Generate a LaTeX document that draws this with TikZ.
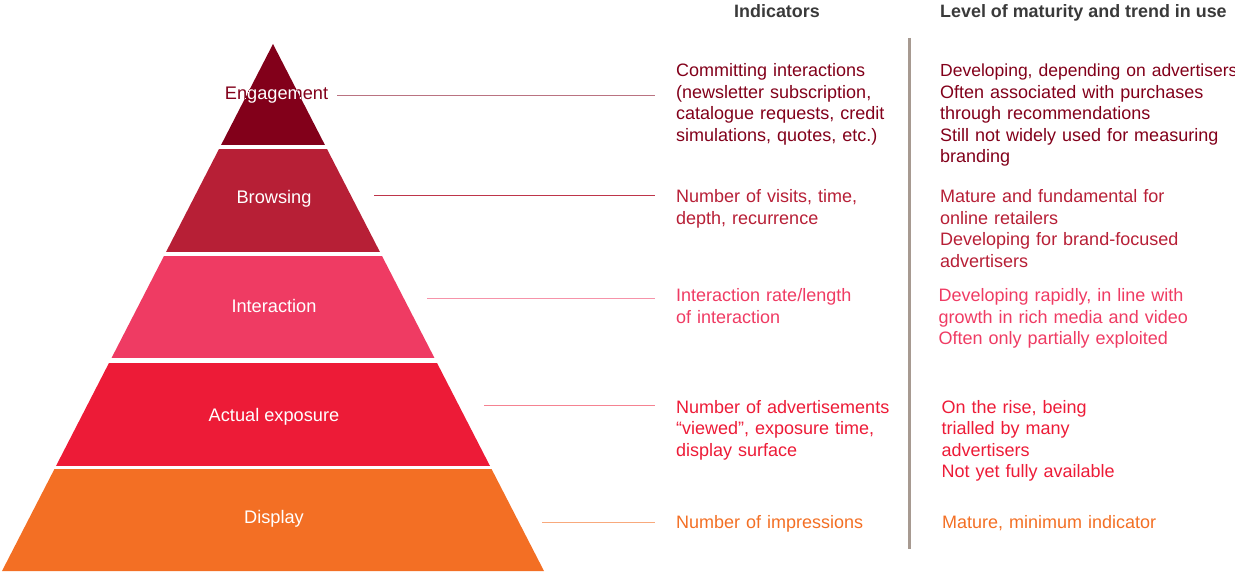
\documentclass[tikz,border=0pt]{standalone}
\usepackage{fontspec}
\setmainfont{Liberation Sans}
\definecolor{engcol}{HTML}{82001A}
\definecolor{brwcol}{HTML}{B71F36}
\definecolor{intcol}{HTML}{EF3B63}
\definecolor{expcol}{HTML}{ED1B37}
\definecolor{dspcol}{HTML}{F36F24}
\definecolor{headcol}{HTML}{3A3A3A}
\definecolor{sepcol}{HTML}{A79A91}
\tikzset{
  txt/.style={anchor=base west, inner sep=0pt, align=left, text width=340pt,
    font=\fontsize{18}{21.6}\selectfont},
  head/.style={inner sep=0pt, font=\fontsize{17.9}{21.6}\selectfont\bfseries, text=headcol},
  lvl/.style={anchor=base, inner sep=0pt, font=\fontsize{18.2}{21.6}\selectfont, text=white},
  conn/.style={line width=0.9pt},
}
\begin{document}
\begin{tikzpicture}[x=1pt,y=-1pt]
\useasboundingbox (0,0) rectangle (1235,575);
% pyramid layers
\begin{scope}
  \clip (273,44) -- (544,571) -- (2,571) -- cycle;
  \fill[engcol] (0,40) rectangle (560,145);
  \fill[brwcol] (0,149) rectangle (560,252);
  \fill[intcol] (0,256) rectangle (560,358);
  \fill[expcol] (0,362.5) rectangle (560,465.5);
  \fill[dspcol] (0,469) rectangle (560,575);
\end{scope}
% layer labels
\node[lvl, text=engcol] (lEng) at (276.5,100) {Engagement};
\begin{scope}
  \clip (273,44) -- (544,571) -- (2,571) -- cycle;
  \node[lvl] (lEngW) at (276.5,100) {Engagement};
\end{scope}
\node[lvl] (lBrw) at (274,204) {Browsing};
\node[lvl] (lInt) at (274,312) {Interaction};
\node[lvl] (lExp) at (274,421) {Actual exposure};
\node[lvl] (lDsp) at (274,523) {Display};
% connectors
\coordinate (ca1) at (337,95);  \coordinate (cb1) at (655,95);
\coordinate (ca2) at (374,195); \coordinate (cb2) at (655,195);
\coordinate (ca3) at (427,298); \coordinate (cb3) at (655,298);
\coordinate (ca4) at (484,405); \coordinate (cb4) at (655,405);
\coordinate (ca5) at (542,522); \coordinate (cb5) at (655,522);
\draw[conn, engcol!55!white] (ca1) -- (cb1);
\draw[conn, brwcol!90!white] (ca2) -- (cb2);
\draw[conn, intcol!55!white] (ca3) -- (cb3);
\draw[conn, expcol!55!white] (ca4) -- (cb4);
\draw[conn, dspcol!60!white] (ca5) -- (cb5);
% separator
\coordinate (s1) at (909,38); \coordinate (s2) at (909,549);
\draw[sepcol, line width=3pt] (s1) -- (s2);
% headings
\node[head, anchor=base] (hInd) at (777,18) {Indicators};
\node[head, anchor=base west] (hLvl) at (940,18) {Level of maturity and trend in use};
% indicators
\node[txt, text=engcol] (iEng) at (676,76.5) {Committing interactions\\(newsletter subscription,\\catalogue requests, credit\\simulations, quotes, etc.)};
\node[txt, text=brwcol] (iBrw) at (676,202.5) {Number of visits, time,\\depth, recurrence};
\node[txt, text=intcol] (iInt) at (676,301.5) {Interaction rate/length\\of interaction};
\node[txt, text=expcol] (iExp) at (676,413) {Number of advertisements\\“viewed”, exposure time,\\display surface};
\node[txt, text=dspcol] (iDsp) at (676,528.5) {Number of impressions};
% maturity
\node[txt, text=engcol] (mEng) at (940,76.5) {{\fontsize{17.5}{21.6}\selectfont Developing, depending on advertisers}\\Often associated with purchases\\through recommendations\\Still not widely used for measuring\\branding};
\node[txt, text=brwcol] (mBrw) at (940,202.5) {Mature and fundamental for\\online retailers\\Developing for brand-focused\\advertisers};
\node[txt, text=intcol] (mInt) at (938.5,301.5) {Developing rapidly, in line with\\growth in rich media and video\\Often only partially exploited};
\node[txt, text=expcol] (mExp) at (941.5,413) {On the rise, being\\trialled by many\\advertisers\\Not yet fully available};
\node[txt, text=dspcol] (mDsp) at (942,528.5) {Mature, minimum indicator};
\end{tikzpicture}
\end{document}
